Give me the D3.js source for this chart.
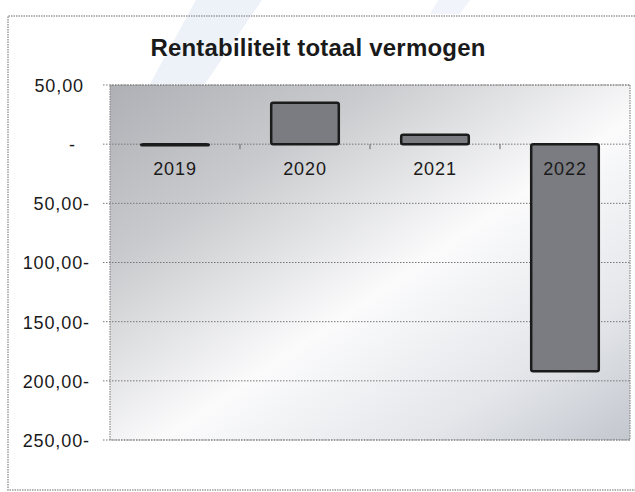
<!DOCTYPE html>
<html><head><meta charset="utf-8">
<script src="https://cdn.jsdelivr.net/npm/d3@7"></script>
<style>
html,body{margin:0;padding:0;background:#fff;}
svg{display:block;}
text{font-family:"Liberation Sans",Arial,sans-serif;fill:#1a1a1a;}
</style></head>
<body>
<svg id="chart" width="635" height="492"></svg>
<script>
const categories = ["2019", "2020", "2021", "2022"];
const values = [-1, 35, 8, -192];
const yTicks = [50, 0, -50, -100, -150, -200, -250];
const yTickLabels = ["50,00", "-", "50,00-", "100,00-", "150,00-", "200,00-", "250,00-"];
const title = "Rentabiliteit totaal vermogen";

const W = 635, H = 492;
const plot = {left: 110, right: 630, top: 85, bottom: 440};
const svg = d3.select("#chart");

const defs = svg.append("defs");
const g1 = defs.append("linearGradient").attr("id", "bg")
  .attr("x1", "0").attr("y1", "0").attr("x2", "1").attr("y2", "1");
g1.append("stop").attr("offset", "0").attr("stop-color", "#aeb0b5");
g1.append("stop").attr("offset", "0.25").attr("stop-color", "#c9cacd");
g1.append("stop").attr("offset", "0.55").attr("stop-color", "#fbfbfc");
g1.append("stop").attr("offset", "0.8").attr("stop-color", "#e4e6ea");
g1.append("stop").attr("offset", "1").attr("stop-color", "#c3c7ce");

// faint scan stripe
svg.append("path")
  .attr("d", "M196,0 L262,0 L205,84 L150,84 Z")
  .attr("fill", "#edf2f9");
svg.append("path")
  .attr("d", "M438,0 L470,0 L460,14 L430,14 Z")
  .attr("fill", "#f1f5fb");

// outer frame
svg.append("path")
  .attr("d", `M640,16 L8,16 L8,490 L640,490`)
  .attr("fill", "none").attr("stroke", "#9a9a9a")
  .attr("stroke-width", 1.5).attr("stroke-dasharray", "1.5,1");

// title
svg.append("text")
  .attr("x", 318).attr("y", 56)
  .attr("text-anchor", "middle")
  .attr("font-size", 24).attr("font-weight", "bold").attr("letter-spacing", "0.2px")
  .text(title);

const x = d3.scaleBand().domain(categories)
  .range([plot.left, plot.right]).paddingInner(0.48).paddingOuter(0.24);
const y = d3.scaleLinear().domain([-250, 50]).range([plot.bottom, plot.top]);

// plot background
svg.append("rect")
  .attr("x", plot.left).attr("y", plot.top)
  .attr("width", plot.right - plot.left).attr("height", plot.bottom - plot.top)
  .attr("fill", "url(#bg)")
  .attr("stroke", "#8a8a8a").attr("stroke-width", 1.2).attr("stroke-dasharray", "1.5,1");

// gridlines
svg.append("g").selectAll("line").data(yTicks).join("line")
  .attr("x1", plot.left - 7).attr("x2", plot.right)
  .attr("y1", d => y(d)).attr("y2", d => y(d))
  .attr("stroke", "#777").attr("stroke-width", 1).attr("stroke-dasharray", "1.5,1.5");

// y axis labels via d3 axis
const yAxis = d3.axisLeft(y).tickValues(yTicks)
  .tickFormat((d, i) => yTickLabels[i]).tickSize(0).tickPadding(0);
const ya = svg.append("g").attr("transform", `translate(${plot.left - 20},0)`).call(yAxis);
ya.select(".domain").remove();
ya.selectAll("text")
  .attr("font-family", "Liberation Sans, Arial, sans-serif")
  .attr("font-size", 18).attr("letter-spacing", "0.9px").attr("fill", "#1a1a1a")
  .attr("dy", "0.36em")
  .attr("dx", d => d > 0 ? -6 : (d === 0 ? -14 : 0));

// x axis ticks at zero line (between categories)
const step = x.step();
const bounds = categories.slice(1).map(c => x(c) - x.paddingInner() * step / 2);
svg.append("g").selectAll("line").data(bounds).join("line")
  .attr("x1", d => d).attr("x2", d => d)
  .attr("y1", y(0)).attr("y2", y(0) + 5)
  .attr("stroke", "#666").attr("stroke-width", 1);

// bars
svg.append("g").selectAll("rect").data(values).join("rect")
  .attr("x", (d, i) => x(categories[i]))
  .attr("width", x.bandwidth())
  .attr("y", d => y(Math.max(0, d)))
  .attr("height", d => Math.max(1, Math.abs(y(d) - y(0))))
  .attr("rx", 2)
  .attr("fill", "#7b7c81")
  .attr("stroke", "#1b1b1b").attr("stroke-width", 2.5);

// category labels below zero line
const xAxis = d3.axisBottom(x).tickSize(0).tickPadding(0);
const xa = svg.append("g").attr("transform", `translate(0,${y(0)})`).call(xAxis);
xa.select(".domain").remove();
xa.selectAll("text")
  .attr("font-family", "Liberation Sans, Arial, sans-serif")
  .attr("font-size", 18).attr("letter-spacing", "0.9px").attr("fill", "#1a1a1a")
  .attr("dy", "31px");
</script>
</body></html>
